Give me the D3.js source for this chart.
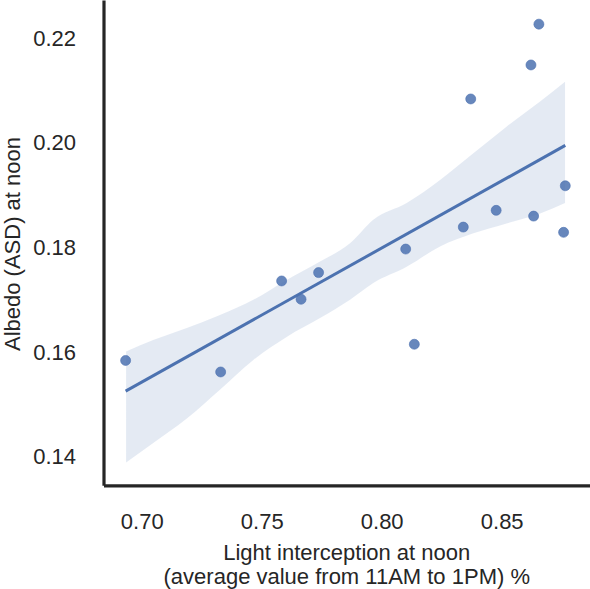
<!DOCTYPE html>
<html>
<head>
<meta charset="utf-8">
<script src="https://cdn.jsdelivr.net/npm/d3@7"></script>
<style>
  body { margin: 0; background: #fff; }
  text { font-family: "Liberation Sans", Arial, sans-serif; fill: #262626; }
</style>
</head>
<body>
<div id="chart"></div>
<script>
// light interception (x) vs albedo (y)
const lightInterception = [0.6933, 0.7329, 0.7583, 0.7664, 0.7737, 0.8100, 0.8136, 0.8340,
                           0.8371, 0.8477, 0.8633, 0.8622, 0.8655, 0.8765, 0.8758];
const albedo = [0.1584, 0.1562, 0.1736, 0.1701, 0.1752, 0.1797, 0.1615, 0.1839,
                0.2084, 0.1871, 0.1860, 0.2149, 0.2227, 0.1918, 0.1829];

// 95% confidence band edges (bootstrap in the original)
const bandX = [0.6935, 0.7048, 0.7188, 0.7326, 0.7465, 0.7604, 0.7743, 0.7868,
               0.7965, 0.8104, 0.8243, 0.8382, 0.8520, 0.8660, 0.8764];
const bandUpper = [0.1601, 0.1623, 0.1646, 0.1671, 0.1700, 0.1738, 0.1773, 0.1808,
                   0.1853, 0.1885, 0.1929, 0.1980, 0.2031, 0.2079, 0.2117];
const bandLower = [0.1389, 0.1426, 0.1473, 0.1528, 0.1585, 0.1629, 0.1665, 0.1700,
                   0.1732, 0.1763, 0.1802, 0.1827, 0.1846, 0.1865, 0.1885];

const xTicks = [0.70, 0.75, 0.80, 0.85];
const yTicks = [0.14, 0.16, 0.18, 0.20, 0.22];

const width = 590, height = 589;
const blue = "#4c72b0";
const fontSize = 22;

const svg = d3.select("#chart").append("svg")
    .attr("width", width)
    .attr("height", height);

const x = d3.scaleLinear().domain([0.68408, 0.8868]).range([103.5, 590]);
const y = d3.scaleLinear().domain([0.13453, 0.22732]).range([485.3, 0]);

// least squares fit, like regplot
const n = albedo.length;
const mx = d3.mean(lightInterception), my = d3.mean(albedo);
let sxy = 0, sxx = 0;
for (let i = 0; i < n; i++) {
    sxy += (lightInterception[i] - mx) * (albedo[i] - my);
    sxx += (lightInterception[i] - mx) ** 2;
}
const slope = sxy / sxx;
const intercept = my - slope * mx;
const xExtent = d3.extent(lightInterception);

const band = bandX.map((v, i) => ({ x: v, lo: bandLower[i], hi: bandUpper[i] }));

svg.append("path")
    .datum(band)
    .attr("fill", blue)
    .attr("fill-opacity", 0.15)
    .attr("d", d3.area()
        .curve(d3.curveMonotoneX)
        .x(d => x(d.x))
        .y0(d => y(d.lo))
        .y1(d => y(d.hi)));

svg.append("path")
    .datum(xExtent.map(v => [v, intercept + slope * v]))
    .attr("fill", "none")
    .attr("stroke", blue)
    .attr("stroke-width", 3)
    .attr("d", d3.line().x(d => x(d[0])).y(d => y(d[1])));

svg.append("g")
    .selectAll("circle")
    .data(lightInterception.map((v, i) => [v, albedo[i]]))
    .enter()
    .append("circle")
    .attr("cx", d => x(d[0]))
    .attr("cy", d => y(d[1]))
    .attr("r", 5)
    .attr("fill", blue)
    .attr("fill-opacity", 0.85)
    .attr("stroke", blue)
    .attr("stroke-opacity", 0.6)
    .attr("stroke-width", 1);

// axes: no tick marks, only labels
const xAxis = svg.append("g")
    .attr("transform", `translate(0,${y.range()[0]})`)
    .call(d3.axisBottom(x).tickValues(xTicks).tickFormat(d3.format(".2f")).tickSize(0).tickPadding(28));
const yAxis = svg.append("g")
    .attr("transform", `translate(${x.range()[0]},0)`)
    .call(d3.axisLeft(y).tickValues(yTicks).tickFormat(d3.format(".2f")).tickSize(0).tickPadding(27.5));

[xAxis, yAxis].forEach(g => {
    g.attr("font-size", null).attr("font-family", null);
    g.selectAll("text").attr("font-size", fontSize).attr("fill", "#262626");
    g.select(".domain").attr("stroke", "#262626").attr("stroke-width", 3.2);
});

svg.append("text")
    .attr("text-anchor", "middle")
    .attr("font-size", fontSize)
    .selectAll("tspan")
    .data(["Light interception at noon", "(average value from 11AM to 1PM) %"])
    .enter()
    .append("tspan")
    .attr("x", (x.range()[0] + x.range()[1]) / 2)
    .attr("y", (d, i) => 560 + i * 24)
    .text(d => d);

svg.append("text")
    .attr("text-anchor", "middle")
    .attr("font-size", fontSize)
    .attr("transform", "translate(19.5,244) rotate(-90)")
    .text("Albedo (ASD) at noon");
</script>
</body>
</html>
